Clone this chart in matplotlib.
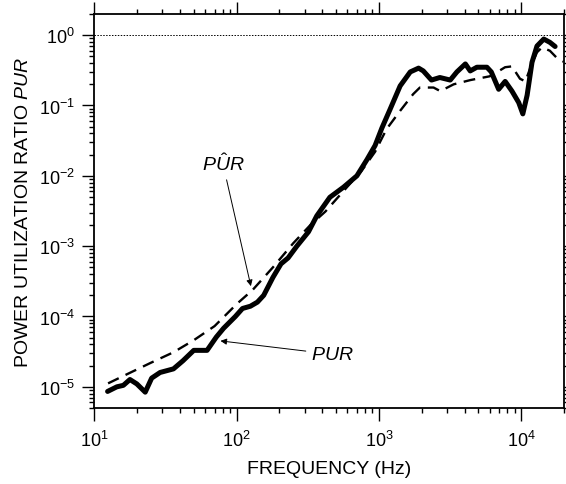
import matplotlib
matplotlib.use("Agg")
import matplotlib.pyplot as plt
from matplotlib.ticker import LogLocator, LogFormatterSciNotation, NullFormatter

plt.rcParams['font.family'] = ['Liberation Sans', 'DejaVu Sans']
plt.rcParams['mathtext.fontset'] = 'custom'
plt.rcParams['mathtext.rm'] = 'Liberation Sans'
plt.rcParams['mathtext.it'] = 'Liberation Sans:italic'
plt.rcParams['mathtext.bf'] = 'Liberation Sans:bold'

# Measured PUR (solid)
pur_freq = [12.4, 14.4, 16, 17.8, 19.9, 22.8, 25.3, 29, 36, 42, 50, 62, 72, 81, 98, 110,
            125, 140, 155, 180, 205, 230, 265, 320, 366, 452, 564, 700, 824, 940, 1050,
            1200, 1410, 1660, 1900, 2050, 2340, 2680, 3170, 3530, 4050, 4380, 4880, 5740,
            6160, 6940, 7710, 8610, 9600, 10260, 11000, 11900, 12900, 14400, 15900, 17300]
pur_vals = [8.6e-6, 1.0e-5, 1.05e-5, 1.27e-5, 1.1e-5, 8.4e-6, 1.33e-5, 1.6e-5, 1.8e-5,
            2.35e-5, 3.3e-5, 3.3e-5, 5.1e-5, 6.8e-5, 1.0e-4, 1.3e-4, 1.4e-4, 1.6e-4, 2.0e-4,
            3.6e-4, 5.6e-4, 6.8e-4, 1.0e-3, 1.6e-3, 2.7e-3, 4.95e-3, 6.9e-3, 1.0e-2, 1.7e-2,
            2.7e-2, 4.8e-2, 0.089, 0.19, 0.30, 0.34, 0.31, 0.23, 0.25, 0.23, 0.30, 0.39,
            0.31, 0.35, 0.35, 0.30, 0.17, 0.22, 0.16, 0.11, 0.076, 0.14, 0.41, 0.70, 0.88,
            0.79, 0.69]

# Predicted PUR-hat (dashed)
purhat_freq = [12.5, 18, 25, 36, 50, 70, 100, 130, 180, 250, 330, 420, 600, 750, 940,
               1130, 1410, 1740, 1940, 2420, 2700, 3350, 4400, 6000, 6800, 7700, 8600,
               9800, 10700, 11500, 12900, 14000, 15900, 17700, 19800]
purhat_vals = [1.12e-5, 1.6e-5, 2.2e-5, 3.1e-5, 4.6e-5, 7.3e-5, 1.5e-4, 2.4e-4, 5.0e-4,
               1.1e-3, 2.0e-3, 3.1e-3, 7.0e-3, 1.15e-2, 2.2e-2, 4.6e-2, 8.4e-2, 0.145,
               0.18, 0.18, 0.16, 0.20, 0.23, 0.26, 0.30, 0.35, 0.36, 0.24, 0.22, 0.33,
               0.57, 0.67, 0.60, 0.48, 0.42]

fig = plt.figure(figsize=(5.66, 4.85), dpi=100)
ax = fig.add_axes([0.1666, 0.1567, 0.83, 0.8124])

ax.plot(purhat_freq, purhat_vals, color='black', lw=1.7, ls=(0, (5, 3.2)))
ax.plot(pur_freq, pur_vals, color='black', lw=3.6, solid_capstyle='round',
        solid_joinstyle='round')
ax.axhline(1.0, color='black', lw=0.7, ls=(0, (1.5, 1.5)))

ax.set_xscale('log')
ax.set_yscale('log')
ax.set_xlim(10, 2e4)
ax.set_ylim(5e-6, 2)

ax.xaxis.set_major_locator(LogLocator(base=10, numticks=10))
ax.yaxis.set_major_locator(LogLocator(base=10, numticks=10))
ax.xaxis.set_minor_locator(LogLocator(base=10, subs=range(2, 10), numticks=20))
ax.yaxis.set_minor_locator(LogLocator(base=10, subs=range(2, 10), numticks=20))
ax.xaxis.set_major_formatter(LogFormatterSciNotation())
ax.yaxis.set_major_formatter(LogFormatterSciNotation())
ax.xaxis.set_minor_formatter(NullFormatter())
ax.yaxis.set_minor_formatter(NullFormatter())

ax.tick_params(which='both', top=True, right=True, direction='out', width=1.0,
               labelsize=13, colors='black')
ax.tick_params(which='major', length=9)
ax.tick_params(which='minor', length=3.8)
ax.tick_params(axis='x', which='major', pad=7)
ax.tick_params(axis='y', which='major', pad=5)

for s in ax.spines.values():
    s.set_linewidth(1.3)

ax.set_xlabel('FREQUENCY (Hz)', fontsize=14, labelpad=7)
ax.set_ylabel(r'POWER UTILIZATION RATIO $\mathit{PUR}$', fontsize=14, labelpad=5)

arrow = dict(arrowstyle='-|>', color='black', lw=0.7, mutation_scale=9,
             shrinkA=2, shrinkB=0)
ax.annotate(r'$\mathit{P\hat{U}R}$', xy=(126, 2.7e-4), xytext=(80, 1.05e-2),
            fontsize=14, ha='center', va='bottom', arrowprops=arrow)
ax.annotate(r'$\mathit{PUR}$', xy=(77, 4.5e-5), xytext=(335, 2.9e-5),
            fontsize=14, ha='left', va='center', arrowprops=arrow)

fig.savefig('out.png', dpi=100)
